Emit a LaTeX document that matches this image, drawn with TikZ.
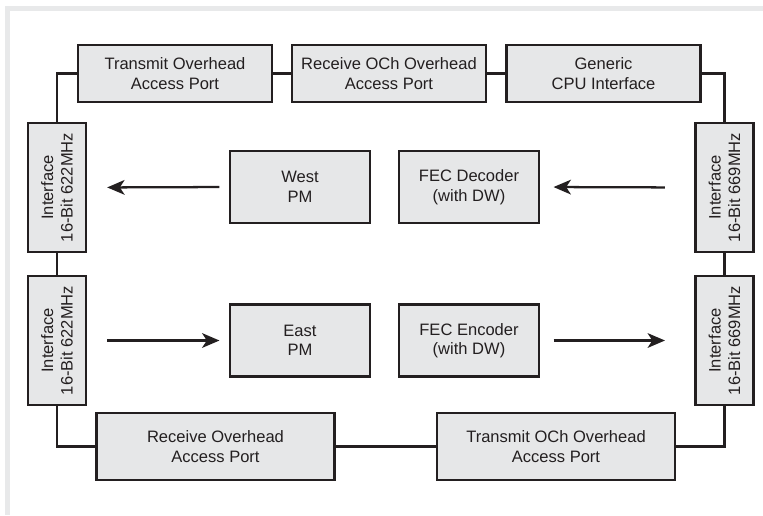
\documentclass[tikz,border=0pt]{standalone}
\usepackage{xcolor}
\usepackage{fontspec}
\setmainfont{Liberation Sans}
\usepackage{tikz}
\usetikzlibrary{shapes, arrows.meta, positioning}

\definecolor{boxgray}{HTML}{E6E7E8}
\definecolor{inkgray}{HTML}{231F20}
\definecolor{framegray}{HTML}{E8E9EA}

\begin{document}
\begin{tikzpicture}
  [
    x=0.75pt, y=-0.75pt,
    font=\fontsize{12.4}{14.6}\selectfont,
    Box/.style={rectangle, draw=inkgray, fill=boxgray, line width=1.8pt, text=inkgray, align=center, inner sep=0pt},
    Top/.style={Box, minimum width=145.5pt, minimum height=42.75pt},
    Mid/.style={Box, minimum width=105pt, minimum height=54pt},
    Bot/.style={Box, minimum width=178.5pt, minimum height=50.25pt},
    Side/.style={Box, rotate=90, minimum width=96.75pt, minimum height=43.5pt},
    Wire/.style={draw=inkgray, line width=1.8pt},
    Flow/.style={draw=inkgray, line width=1.7pt, -{Stealth[length=13pt, width=11pt, inset=3.5pt]}}
  ]
  % Frame
  \fill[white] (0, 0) rectangle (763, 515);
  \fill[framegray] (5, 6) rectangle (763, 11);
  \fill[framegray] (5, 6) rectangle (10, 515);

  % Nodes
  \node[Top] (toh) at(175, 73.5) {Transmit Overhead\\Access Port};
  \node[Top] (roch) at(389, 73.5) {Receive OCh Overhead\\Access Port};
  \node[Top] (cpu) at(603.5, 73.5) {Generic\\CPU Interface};

  \node[Side] (ifw1) at(57, 187.5) {Interface\\16-Bit 622MHz};
  \node[Side] (ifw2) at(57, 340.5) {Interface\\16-Bit 622MHz};
  \node[Side] (ife1) at(724.5, 187.5) {Interface\\16-Bit 669MHz};
  \node[Side] (ife2) at(724.5, 340.5) {Interface\\16-Bit 669MHz};

  \node[Mid] (west) at(300, 187) {West\\PM};
  \node[Mid] (east) at(300, 340.5) {East\\PM};
  \node[Mid] (dec) at(469, 187) {FEC Decoder\\(with DW)};
  \node[Mid] (enc) at(469, 340.5) {FEC Encoder\\(with DW)};

  \node[Bot] (roh) at(215.5, 446.5) {Receive Overhead\\Access Port};
  \node[Bot] (toch) at(556, 446.5) {Transmit OCh Overhead\\Access Port};

  % Lines
  \path [Wire] (toh.east) -- (roch.west);
  \path [Wire] (roch.east) -- (cpu.west);
  \path [Wire] (toh.west) -| (ifw1.east);
  \path [Wire] (ifw1.west) -- (ifw2.east);
  \path [Wire] (ifw2.west) |- (roh.west);
  \path [Wire] (roh.east) -- (toch.west);
  \path [Wire] (toch.east) -| (ife2.west);
  \path [Wire] (ife2.east) -- (ife1.west);
  \path [Wire] (ife1.east) |- (cpu.east);

  % Arrows
  \path [Flow, shorten <=7pt, shorten >=15pt] (west.west) -- (ifw1.south);
  \path [Flow, shorten <=22pt, shorten >=10pt] (ife1.north) -- (dec.east);
  \path [Flow, shorten <=15pt, shorten >=7pt] (ifw2.south) -- (east.west);
  \path [Flow, shorten <=10pt, shorten >=22pt] (enc.east) -- (ife2.north);

\end{tikzpicture}
\end{document}
